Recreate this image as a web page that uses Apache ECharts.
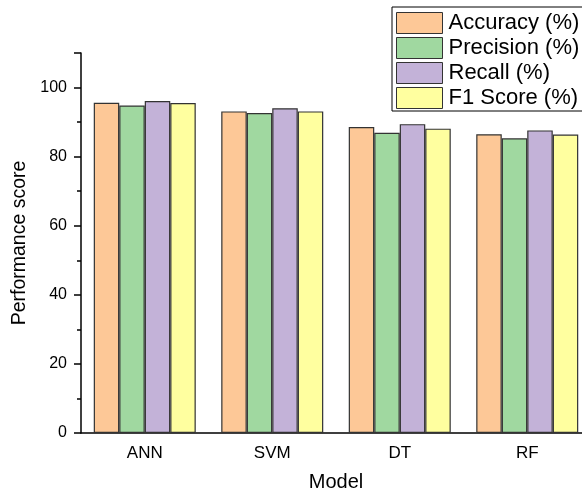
<!DOCTYPE html>
<html>
<head>
<meta charset="utf-8">
<script src="https://cdn.jsdelivr.net/npm/echarts@6/dist/echarts.min.js"></script>
<style>html,body{margin:0;padding:0;background:#fff}#c{width:582px;height:494px}</style>
</head>
<body>
<div id="c"></div>
<script>
const categories = ['ANN', 'SVM', 'DT', 'RF'];
const accuracy = [95.6, 93.1, 88.6, 86.5];
const precision = [94.8, 92.6, 86.9, 85.3];
const recall = [96.1, 94.0, 89.4, 87.6];
const f1 = [95.5, 93.1, 88.1, 86.4];
const seriesNames = ['Accuracy (%)', 'Precision (%)', 'Recall (%)', 'F1 Score (%)'];
const colors = ['#FDC897', '#A0D8A0', '#C3B2D8', '#FFFF9F'];
const dataSets = [accuracy, precision, recall, f1];

const font = 'Liberation Sans, Arial, sans-serif';
const chart = echarts.init(document.getElementById('c'));
chart.setOption({
  animation: false,
  backgroundColor: '#fff',
  grid: { left: 81, top: 53, width: 510, height: 380, containLabel: false, outerBoundsMode: 'none' },
  legend: {
    left: 392, top: 7,
    orient: 'vertical',
    itemWidth: 46, itemHeight: 21, itemGap: 3,
    padding: [5, 10, 2, 4],
    borderColor: '#000', borderWidth: 1,
    icon: 'rect',
    textStyle: { fontFamily: font, fontSize: 22, lineHeight: 21, color: '#000', padding: [0, 0, 0, 1] },
    itemStyle: { borderColor: '#333', borderWidth: 1 },
    data: seriesNames
  },
  xAxis: [{
    type: 'category',
    data: categories,
    name: 'Model',
    nameLocation: 'middle',
    nameGap: 39,
    nameTextStyle: { fontFamily: font, fontSize: 20, color: '#000' },
    axisLine: { lineStyle: { color: '#000', width: 1.5 } },
    axisTick: { alignWithLabel: true, length: 7, lineStyle: { color: '#000', width: 1.5 } },
    axisLabel: { fontFamily: font, fontSize: 17, color: '#000', margin: 12 }
  }, {
    type: 'category',
    data: categories,
    position: 'bottom',
    axisLine: { show: false },
    axisTick: { alignWithLabel: false, length: 4, lineStyle: { color: '#000', width: 1.5 } },
    axisLabel: { show: false }
  }],
  yAxis: {
    type: 'value',
    min: 0, max: 110, interval: 20,
    name: 'Performance score',
    nameLocation: 'middle',
    nameGap: 44,
    nameTextStyle: { fontFamily: font, fontSize: 19.5, color: '#000' },
    axisLine: { show: true, lineStyle: { color: '#000', width: 1.5 } },
    axisTick: { show: true, length: 7, lineStyle: { color: '#000', width: 1.5 } },
    minorTick: { show: true, splitNumber: 2, length: 4, lineStyle: { color: '#000', width: 1.5 } },
    splitLine: { show: false },
    axisLabel: {
      fontFamily: font, fontSize: 16, color: '#000', margin: 14,
      formatter: v => (v > 100 ? '' : String(v))
    }
  },
  series: dataSets.map((d, i) => ({
    name: seriesNames[i],
    type: 'bar',
    data: d,
    barGap: '0%',
    barCategoryGap: '20%',
    itemStyle: { color: colors[i], borderColor: '#333', borderWidth: 1.2 }
  }))
});
</script>
</body>
</html>
